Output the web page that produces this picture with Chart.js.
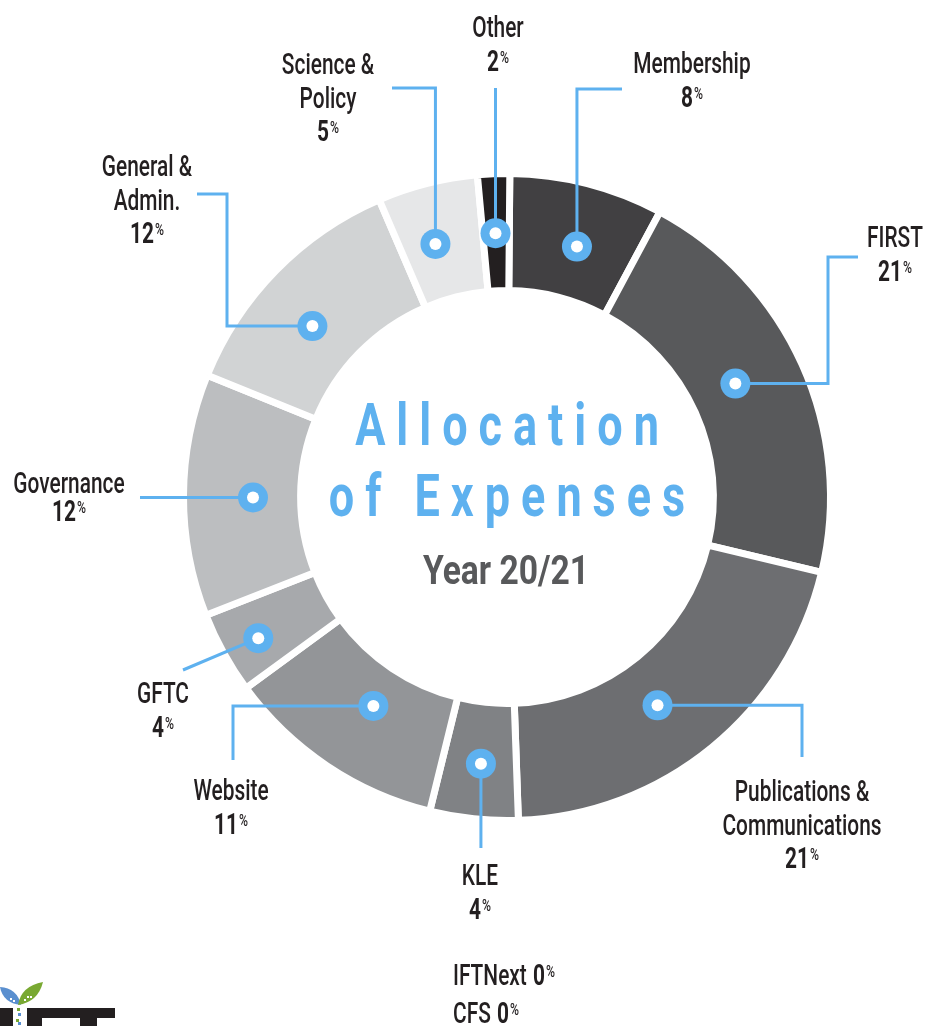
<!DOCTYPE html>
<html>
<head>
<meta charset="utf-8">
<script src="https://cdn.jsdelivr.net/npm/chart.js@4/dist/chart.umd.min.js"></script>
<style>
  html, body { margin: 0; padding: 0; background: #ffffff; }
  #wrap { position: relative; width: 927px; height: 1026px; }
</style>
</head>
<body>
<div id="wrap"><canvas id="expenseChart"></canvas></div>
<script>
// Allocation of Expenses - Year 20/21
const categories = ['Membership', 'FIRST', 'Publications & Communications', 'KLE', 'Website',
    'GFTC', 'Governance', 'General & Admin.', 'Science & Policy', 'Other', 'IFTNext', 'CFS'];
// arc shares as drawn (the printed labels are rounded)
const shares = [7.7, 20.9, 20.7, 4.4, 11.1, 4.1, 12.1, 12.4, 5.0, 1.6, 0, 0];
const shownPercent = ['8', '21', '21', '4', '11', '4', '12', '12', '5', '2', '0', '0'];
const segmentColors = ['#414042', '#58595b', '#6d6e71', '#808285', '#939598',
    '#a7a9ac', '#bcbec0', '#d1d3d4', '#e6e7e8', '#231f20', '#ffffff', '#ffffff'];

const BLUE = '#5eb1ef';
const INK = '#231f20';
const FONT = 'Roboto, "Liberation Sans", sans-serif';

// callout placement: label anchor, marker spot on the arc, leader path
const callouts = [
    { lines: ['Membership'], x: 692, y: 73, t: 0.545, r: 260, path: [['v', 89], ['h', 622]] },
    { lines: ['FIRST'], x: 895, y: 247, t: 0.47, r: 255, path: [['h', 828], ['v', 257], ['h', 858]] },
    { lines: ['Publications &', 'Communications'], x: 802, y: 801, t: 0.546, r: 257, path: [['h', 802], ['v', 757]] },
    { lines: ['KLE'], x: 480, y: 885, t: 0.48, r: 268, path: [['v', 848]] },
    { lines: ['Website'], x: 231, y: 800, t: 0.47, r: 248, path: [['h', 233], ['v', 760]] },
    { lines: ['GFTC'], x: 163, y: 703, t: 0.45, r: 286, path: [['to', 183, 670]] },
    { lines: ['Governance'], x: 69, y: 493, t: 0.49, r: 254, gap: 28, path: [['h', 140]] },
    { lines: ['General &', 'Admin.'], x: 147, y: 176, t: 0.43, r: 259, path: [['h', 227], ['v', 194], ['h', 197]] },
    { lines: ['Science &', 'Policy'], x: 328, y: 74, t: 0.415, r: 263, path: [['v', 88], ['h', 392]] },
    { lines: ['Other'], x: 498, y: 37, t: 0.48, r: 264, path: [['v', 88]] }
];

function drawText(ctx, s, x, y, o) {
    ctx.save();
    ctx.font = (o.weight || 500) + ' ' + o.size + 'px ' + FONT;
    ctx.fillStyle = o.color || INK;
    ctx.textBaseline = 'alphabetic';
    ctx.textAlign = 'left';
    const sq = o.squeeze || 0.72;
    const sp = o.spacing || 0;
    const chars = sp ? Array.from(s) : [s];
    const widths = chars.map(c => ctx.measureText(c).width * sq);
    const total = widths.reduce((a, b) => a + b, 0) + sp * (chars.length - 1);
    let left = x;
    if (o.align === 'center') left = x - total / 2;
    if (o.align === 'right') left = x - total;
    let cx = left;
    chars.forEach((c, i) => {
        ctx.save();
        ctx.translate(cx, y);
        ctx.scale(sq, 1);
        ctx.fillText(c, 0, 0);
        ctx.restore();
        cx += widths[i] + sp;
    });
    ctx.restore();
    return total;
}

function measure(ctx, s, size, weight, sq) {
    ctx.save();
    ctx.font = weight + ' ' + size + 'px ' + FONT;
    const w = ctx.measureText(s).width * sq;
    ctx.restore();
    return w;
}

function drawPercent(ctx, num, x, y, align) {
    const wNum = measure(ctx, num, 29, 700, 0.72);
    const wPct = measure(ctx, '%', 17, 500, 0.72);
    const total = wNum + 1 + wPct;
    const left = align === 'left' ? x : x - total / 2;
    drawText(ctx, num, left, y, { size: 29, weight: 700 });
    drawText(ctx, '%', left + wNum + 1, y - 8, { size: 17, weight: 500 });
    return total;
}

function drawLogo(ctx) {
    ctx.save();
    ctx.fillStyle = '#5a8fcf';
    ctx.beginPath();
    ctx.moveTo(0, 987);
    ctx.quadraticCurveTo(17, 988, 21, 1005);
    ctx.quadraticCurveTo(3, 1003, 0, 987);
    ctx.fill();
    ctx.fillStyle = '#79a932';
    ctx.beginPath();
    ctx.moveTo(18, 1005);
    ctx.quadraticCurveTo(21, 986, 43, 982);
    ctx.quadraticCurveTo(38, 1002, 18, 1005);
    ctx.fill();
    ctx.fillStyle = '#ffffff';
    [[10, 998], [13, 1000], [24, 999], [27, 996], [30, 996]].forEach(p => ctx.fillRect(p[0], p[1], 2, 2));
    ctx.fillStyle = '#79a932';
    ctx.fillRect(17, 1008, 3, 3);
    ctx.fillRect(16, 1019, 3, 3);
    ctx.fillStyle = '#5a8fcf';
    ctx.fillRect(18, 1013, 3, 3);
    ctx.fillRect(18, 1022, 3, 3);
    ctx.fillStyle = INK;
    ctx.fillRect(0, 1008, 13, 18);
    ctx.fillRect(27, 1008, 88, 10);
    ctx.fillRect(27, 1018, 15, 8);
    ctx.fillRect(80, 1018, 17, 8);
    ctx.restore();
}

const calloutPlugin = {
    id: 'callouts',
    afterDatasetsDraw(chart) {
        const ctx = chart.ctx;
        const arcs = chart.getDatasetMeta(0).data;

        // centre title
        drawText(ctx, 'Allocation', 507, 445, { size: 60, weight: 700, color: BLUE, squeeze: 0.75, spacing: 11, align: 'center' });
        drawText(ctx, 'of Expenses', 507, 516, { size: 60, weight: 700, color: BLUE, squeeze: 0.75, spacing: 11, align: 'center' });
        drawText(ctx, 'Year 20/21', 506, 584, { size: 41, weight: 700, color: '#58595b', squeeze: 0.82, align: 'center' });

        callouts.forEach((c, i) => {
            const arc = arcs[i];
            const p = arc.getProps(['x', 'y', 'startAngle', 'endAngle'], true);
            const a = p.startAngle + c.t * (p.endAngle - p.startAngle);
            const mx = p.x + c.r * Math.cos(a);
            const my = p.y + c.r * Math.sin(a);

            ctx.save();
            ctx.strokeStyle = BLUE;
            ctx.lineWidth = 3;
            ctx.lineJoin = 'miter';
            ctx.beginPath();
            ctx.moveTo(mx, my);
            let cx = mx, cy = my;
            c.path.forEach(s => {
                if (s[0] === 'h') cx = s[1];
                else if (s[0] === 'v') cy = s[1];
                else { cx = s[1]; cy = s[2]; }
                ctx.lineTo(cx, cy);
            });
            ctx.stroke();
            ctx.fillStyle = BLUE;
            ctx.beginPath();
            ctx.arc(mx, my, 15, 0, Math.PI * 2);
            ctx.fill();
            ctx.fillStyle = '#ffffff';
            ctx.beginPath();
            ctx.arc(mx, my, 6, 0, Math.PI * 2);
            ctx.fill();
            ctx.restore();

            const gap = c.gap || 33.5;
            c.lines.forEach((ln, k) => {
                drawText(ctx, ln, c.x, c.y + k * gap, { size: 29, align: 'center' });
            });
            drawPercent(ctx, shownPercent[i], c.x, c.y + c.lines.length * gap);
        });

        // categories with no spend
        let y = 985;
        shares.forEach((v, i) => {
            if (v !== 0) return;
            const w = drawText(ctx, categories[i] + ' ', 453, y, { size: 29 });
            drawPercent(ctx, shownPercent[i], 453 + w + 1, y, 'left');
            y += 38;
        });

        drawLogo(ctx);
    }
};

new Chart(document.getElementById('expenseChart'), {
    type: 'doughnut',
    data: {
        labels: categories,
        datasets: [{
            data: shares,
            backgroundColor: segmentColors,
            borderColor: '#ffffff',
            borderWidth: 7,
            hoverBorderWidth: 7,
            hoverOffset: 0
        }]
    },
    options: {
        responsive: true,
        maintainAspectRatio: false,
        animation: false,
        events: [],
        rotation: 0.5,
        cutout: '63.8%',
        radius: 323.5,
        layout: { padding: { left: 184, right: 97, top: 174, bottom: 206 } },
        plugins: {
            legend: { display: false },
            tooltip: { enabled: false }
        }
    },
    plugins: [calloutPlugin]
});
</script>
</body>
</html>
